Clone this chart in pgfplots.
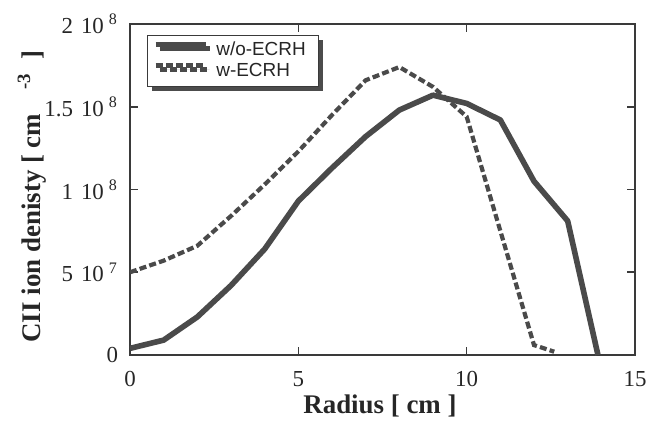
\documentclass[border=0pt]{standalone}
\usepackage{pgfplots}
\pgfplotsset{compat=1.18}
\usepackage{fontspec}
\setmainfont{Liberation Serif}
\newfontfamily\legendfont{Liberation Sans}
\usetikzlibrary{shadows}
\definecolor{lincol}{HTML}{4A4A4A}
\definecolor{axcol}{HTML}{3A3A3A}
\newcommand{\tl}[2]{#1\hspace{4bp}10\hspace{2.5bp}\textsuperscript{#2}}
\begin{document}
\begin{tikzpicture}
\begin{axis}[
  scale only axis,
  width=252.5bp, height=165.5bp,
  xmin=0, xmax=15, ymin=0, ymax=2e8,
  scaled y ticks=false, scaled x ticks=false,
  xtick={0,5,10,15}, xticklabels={0,5,10,15},
  ytick={0,5e7,1e8,1.5e8,2e8},
  yticklabels={0,\tl{5}{7},\tl{1}{8},\tl{1.5}{8},\tl{2}{8}},
  axis line style={axcol, line width=0.8bp},
  every tick/.style={axcol, line width=0.8bp},
  major tick length=4bp,
  tick align=inside,
  ticklabel style={font=\fontsize{11.5}{13}\selectfont, text=black!85},
  xticklabel style={yshift=-4.5bp},
  yticklabel style={xshift=-2.5bp},
  xlabel={Radius [ cm ]},
  ylabel={CII ion denisty [ cm\hspace{0.9em}\textsuperscript{-3}\hspace{0.5em}]},
  label style={font=\bfseries\fontsize{13.5}{15}\selectfont, text=black!85},
  xlabel style={at={(axis description cs:0.495,-0.154)}, anchor=center},
  ylabel style={at={(axis description cs:-0.194,0.479)}, anchor=center},
  legend style={
    draw=axcol, line width=0.6bp, fill=white,
    drop shadow={shadow xshift=2bp, shadow yshift=-2bp, fill=black!70, opacity=1},
    at={(axis description cs:0.034,0.967)}, anchor=north west,
    font=\legendfont\fontsize{9.5}{11}\selectfont, text=black!85,
    inner xsep=2.5bp, inner ysep=2.5bp, row sep=0.5bp,
    nodes={inner xsep=4bp, inner ysep=0.5bp, text height=7bp, text depth=2bp},
  },
  legend cell align=left,
  legend image code/.code={\draw[#1] (0bp,3bp) -- (25bp,3bp);},
]
\addplot[lincol, line width=2.8bp, line join=round] coordinates {
  (0,0.04e8) (1,0.09e8) (2,0.23e8) (3,0.42e8) (4,0.64e8) (5,0.93e8)
  (6,1.13e8) (7,1.32e8) (8,1.48e8) (9,1.57e8) (10,1.52e8) (11,1.42e8)
  (12,1.05e8) (13,0.81e8) (13.9,0.0)
};
\addlegendentry{w/o-ECRH}
\addplot[lincol, line width=2.1bp, dash pattern=on 3.5bp off 1.6bp] coordinates {
  (0,0.50e8) (1,0.57e8) (2,0.66e8) (3,0.84e8) (4,1.03e8) (5,1.23e8)
  (6,1.45e8) (7,1.66e8) (8,1.74e8) (9,1.62e8) (10,1.44e8) (11,0.75e8)
  (12,0.06e8) (12.6,0.02e8)
};
\addlegendentry{w-ECRH}
\end{axis}
\pgfresetboundingbox
\path[use as bounding box] ([shift={(-65bp,-35bp)}]current axis.south west) rectangle ([shift={(12.5bp,12bp)}]current axis.north east);
\end{tikzpicture}
\end{document}
